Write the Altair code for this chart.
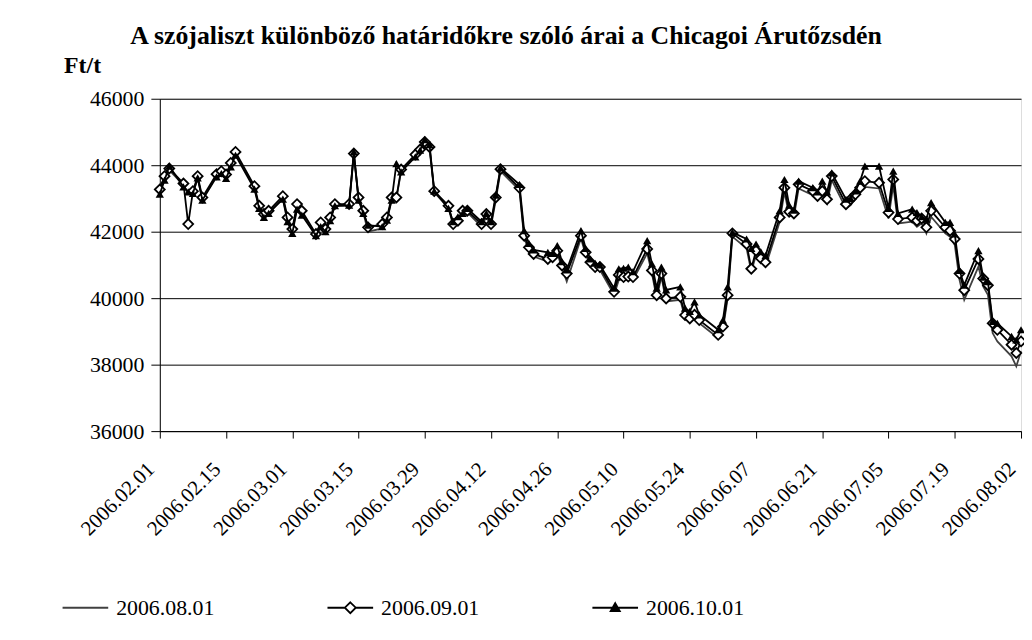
import altair as alt
import pandas as pd

dates = [
    "2006-02-01", "2006-02-02", "2006-02-03", "2006-02-06", "2006-02-07", "2006-02-08", "2006-02-09", "2006-02-10",
    "2006-02-13", "2006-02-14", "2006-02-15", "2006-02-16", "2006-02-17", "2006-02-21", "2006-02-22", "2006-02-23",
    "2006-02-24", "2006-02-27", "2006-02-28", "2006-03-01", "2006-03-02", "2006-03-03", "2006-03-06", "2006-03-07",
    "2006-03-08", "2006-03-09", "2006-03-10", "2006-03-13", "2006-03-14", "2006-03-15", "2006-03-16", "2006-03-17",
    "2006-03-20", "2006-03-21", "2006-03-22", "2006-03-23", "2006-03-24", "2006-03-27", "2006-03-28", "2006-03-29",
    "2006-03-30", "2006-03-31", "2006-04-03", "2006-04-04", "2006-04-05", "2006-04-06", "2006-04-07", "2006-04-10",
    "2006-04-11", "2006-04-12", "2006-04-13", "2006-04-14", "2006-04-18", "2006-04-19", "2006-04-20", "2006-04-21",
    "2006-04-24", "2006-04-25", "2006-04-26", "2006-04-27", "2006-04-28", "2006-05-01", "2006-05-02", "2006-05-03",
    "2006-05-04", "2006-05-05", "2006-05-08", "2006-05-09", "2006-05-10", "2006-05-11", "2006-05-12", "2006-05-15",
    "2006-05-16", "2006-05-17", "2006-05-18", "2006-05-19", "2006-05-22", "2006-05-23", "2006-05-24", "2006-05-25",
    "2006-05-26", "2006-05-30", "2006-05-31", "2006-06-01", "2006-06-02", "2006-06-05", "2006-06-06", "2006-06-07",
    "2006-06-08", "2006-06-09", "2006-06-12", "2006-06-13", "2006-06-14", "2006-06-15", "2006-06-16", "2006-06-19",
    "2006-06-20", "2006-06-21", "2006-06-22", "2006-06-23", "2006-06-26", "2006-06-27", "2006-06-28", "2006-06-29",
    "2006-06-30", "2006-07-03", "2006-07-05", "2006-07-06", "2006-07-07", "2006-07-10", "2006-07-11", "2006-07-12",
    "2006-07-13", "2006-07-14", "2006-07-17", "2006-07-18", "2006-07-19", "2006-07-20", "2006-07-21", "2006-07-24",
    "2006-07-25", "2006-07-26", "2006-07-27", "2006-07-28", "2006-07-31", "2006-08-01", "2006-08-02",
]

s_0801 = [
    43200, 43600, 43850, 43400, 43150, 43150, 43600, 42980,
    43680, 43780, 43680, 44020, 44350, 43320, 42720, 42470,
    42580, 43000, 42380, 42000, 42750, 42560, 41880, 42200,
    42020, 42370, 42780, 42780, 44300, 42980, 42580, 42000,
    42100, 42350, 42980, 43000, 43820, 44280, 44420, 44650,
    44500, 43180, 42720, 42180, 42280, 42580, 42580, 42150,
    42450, 42180, 42950, 43820, 43250, 41800, 41450, 41250,
    41100, 41150, 41350, 40900, 40500, 41800, 41300, 41000,
    40850, 40850, 40100, 40550, 40550, 40550, 40550, 41350,
    40750, 40000, 40650, 39900, 39950, 39400, 39300, 39400,
    39250, 38800, 39050, 40000, 41850, 41500, 40800, 41300,
    41100, 40950, 42300, 43200, 42500, 42450, 43300, 43100,
    42950, 43100, 42850, 43550, 42700, 42800, 43000, 43200,
    43350, 43300, 42400, 43400, 42250, 42300, 42150, 42250,
    41950, 42450, 41950, 41850, 41600, 40550, 39950, 40950,
    40350, 40100, 38950, 38700, 38250, 37950, 38400,
]

s_0901 = [
    43270, 43670, 43900, 43450, 42230, 43220, 43670, 43030,
    43730, 43820, 43720, 44070, 44400, 43370, 42780, 42530,
    42630, 43070, 42430, 42080, 42830, 42630, 41930, 42280,
    42080, 42430, 42830, 42830, 44350, 43030, 42630, 42130,
    42230, 42430, 43030, 43030, 43870, 44320, 44470, 44700,
    44550, 43220, 42780, 42230, 42330, 42630, 42630, 42230,
    42530, 42230, 43030, 43880, 43320, 41880, 41530, 41330,
    41180, 41230, 41430, 40985, 40740, 41880, 41380, 41084,
    40935, 40935, 40190, 40700, 40635, 40650, 40635, 41480,
    40835, 40090, 40740, 39990, 40040, 39490, 39390, 39500,
    39340, 38895, 39145, 40090, 41950, 41630, 40885, 41430,
    41200, 41080, 42430, 43325, 42600, 42550, 43424, 43224,
    43075, 43224, 42976, 43672, 42827, 42976, 43125, 43325,
    43522, 43472, 42577, 43572, 42380, 42428, 42330, 42400,
    42130, 42627, 42130, 42030, 41780, 40740, 40240, 41180,
    40590, 40390, 39245, 39046, 38600, 38350, 38700,
]

s_1001 = [
    43130, 43550, 43970, 43350, 43200, 43150, 43620, 42950,
    43650, 43750, 43600, 43950, 44300, 43280, 42700, 42430,
    42550, 42980, 42300, 41950, 42680, 42500, 41880, 42150,
    42000, 42330, 42780, 42800, 44400, 42950, 42550, 42200,
    42150, 42350, 42950, 44050, 43800, 44250, 44450, 44770,
    44620, 43220, 42700, 42300, 42450, 42550, 42700, 42300,
    42550, 42300, 43100, 43920, 43420, 42030, 41650, 41450,
    41380, 41350, 41580, 41100, 40850, 42030, 41500, 41180,
    41050, 41000, 40300, 40885, 40900, 40935, 40800, 41730,
    41030, 40300, 40935, 40250, 40340, 39700, 39600, 39890,
    39500, 39050, 39340, 40340, 41980, 41780, 41500, 41630,
    41400, 41280, 42630, 43570, 42800, 42650, 43522, 43325,
    43200, 43522, 43200, 43770, 42976, 43000, 43224, 43522,
    43970, 43970, 42700, 43820, 42550, 42677, 42577, 42450,
    42380, 42876, 42280, 42280, 41930, 40835, 40390, 41430,
    40635, 40500, 39300, 39245, 38850, 38746, 39050,
]

series_names = ["2006.08.01", "2006.09.01", "2006.10.01"]
tick_labels = [
    "2006.02.01", "2006.02.15", "2006.03.01", "2006.03.15", "2006.03.29", "2006.04.12", "2006.04.26",
    "2006.05.10", "2006.05.24", "2006.06.07", "2006.06.21", "2006.07.05", "2006.07.19", "2006.08.02",
]
y_ticks = [36000, 38000, 40000, 42000, 44000, 46000]

rows = []
for name, vals in zip(series_names, [s_0801, s_0901, s_1001]):
    for d, v in zip(dates, vals):
        rows.append({"date": d, "series": name, "price": v})
df = pd.DataFrame(rows)


def to_dt(lbl):
    y, m, d = lbl.split(".")
    return alt.DateTime(year=int(y), month=int(m), date=int(d), utc=True)


tick_values = [to_dt(t) for t in tick_labels]
FONT = "Liberation Serif"

x_enc = alt.X(
    "date:T",
    scale=alt.Scale(type="utc", domain=[tick_values[0], tick_values[-1]]),
    axis=alt.Axis(
        values=tick_values, format="%Y.%m.%d", labelAngle=-45, labelAlign="right",
        labelBaseline="middle", labelFont=FONT, labelFontSize=21, labelColor="black",
        tickSize=7, tickColor="black", domainColor="black", grid=False, labelPadding=28,
        labelOffset=-9, labelOverlap=False, labelBound=False,
    ),
    title=None,
)
y_enc = alt.Y(
    "price:Q",
    scale=alt.Scale(domain=[36000, 46000], nice=False, zero=False),
    axis=alt.Axis(
        values=y_ticks, format="d", labelFont=FONT, labelFontSize=22, labelColor="black",
        tickSize=9, tickColor="black", domainColor="black", grid=True, gridColor="black",
        gridWidth=1, labelPadding=7, title="Ft/t", titleAngle=0, titleAlign="left",
        titleBaseline="bottom", titleX=-97, titleY=-21, titleFont=FONT, titleFontSize=24,
        titleFontWeight="bold", titleColor="black",
    ),
)

base = alt.Chart(df)


def only(name):
    return base.transform_filter(alt.datum.series == name)


line08 = only(series_names[0]).mark_line(strokeWidth=1.8, color="#404040").encode(x=x_enc, y=y_enc)
line09 = only(series_names[1]).mark_line(strokeWidth=1.8, color="black").encode(x=x_enc, y=y_enc)
line10 = only(series_names[2]).mark_line(strokeWidth=1.8, color="black").encode(x=x_enc, y=y_enc)

diamonds = only(series_names[1]).mark_point(
    shape="diamond", filled=True, fill="white", stroke="black", strokeWidth=1.8, size=100, opacity=1
).encode(x=x_enc, y=y_enc)

triangles = only(series_names[2]).mark_point(
    shape="triangle-up", filled=True, color="black", size=70, opacity=1
).encode(x=x_enc, y=y_enc)

legend_paths = [
    "M-1,0L1,0",
    "M-1,0L-0.24,0M0.24,0L1,0M0,-0.24L0.24,0L0,0.24L-0.24,0Z",
    "M-1,0L1,0M0,-0.2L0.2,0.15L-0.2,0.15Z",
]
leg = alt.Legend(
    title=None, orient="none", legendX=-99, legendY=489, direction="horizontal",
    symbolSize=2116, symbolStrokeWidth=1.8, symbolOpacity=1,
    labelFont=FONT, labelFontSize=22, labelColor="black", labelOffset=7, columnPadding=110,
)
legend_layer = base.transform_filter(alt.datum.price < 0).mark_point(
    filled=True, size=2116, strokeWidth=1.8
).encode(
    x=x_enc, y=y_enc,
    shape=alt.Shape("series:N", scale=alt.Scale(domain=series_names, range=legend_paths), legend=leg),
    fill=alt.Fill("series:N", scale=alt.Scale(domain=series_names, range=["white", "white", "black"]), legend=leg),
    stroke=alt.Stroke("series:N", scale=alt.Scale(domain=series_names, range=["#404040", "black", "black"]), legend=leg),
)

chart = alt.layer(line08, line09, diamonds, line10, triangles, legend_layer).properties(
    width=868, height=335,
    autosize=alt.AutoSizeParams(type="none"),
    padding={"left": 153, "top": 89, "right": 3, "bottom": 200},
    title=alt.Title(
        "A szójaliszt különböző határidőkre szóló árai a Chicagoi Árutőzsdén",
        font=FONT, fontSize=26, fontWeight="bold", color="black", anchor="middle",
        dx=-85, offset=5,
    ),
).configure_view(stroke=None).configure(background="white")

chart.save("out.html", embed_options={"renderer": "svg", "actions": False})
